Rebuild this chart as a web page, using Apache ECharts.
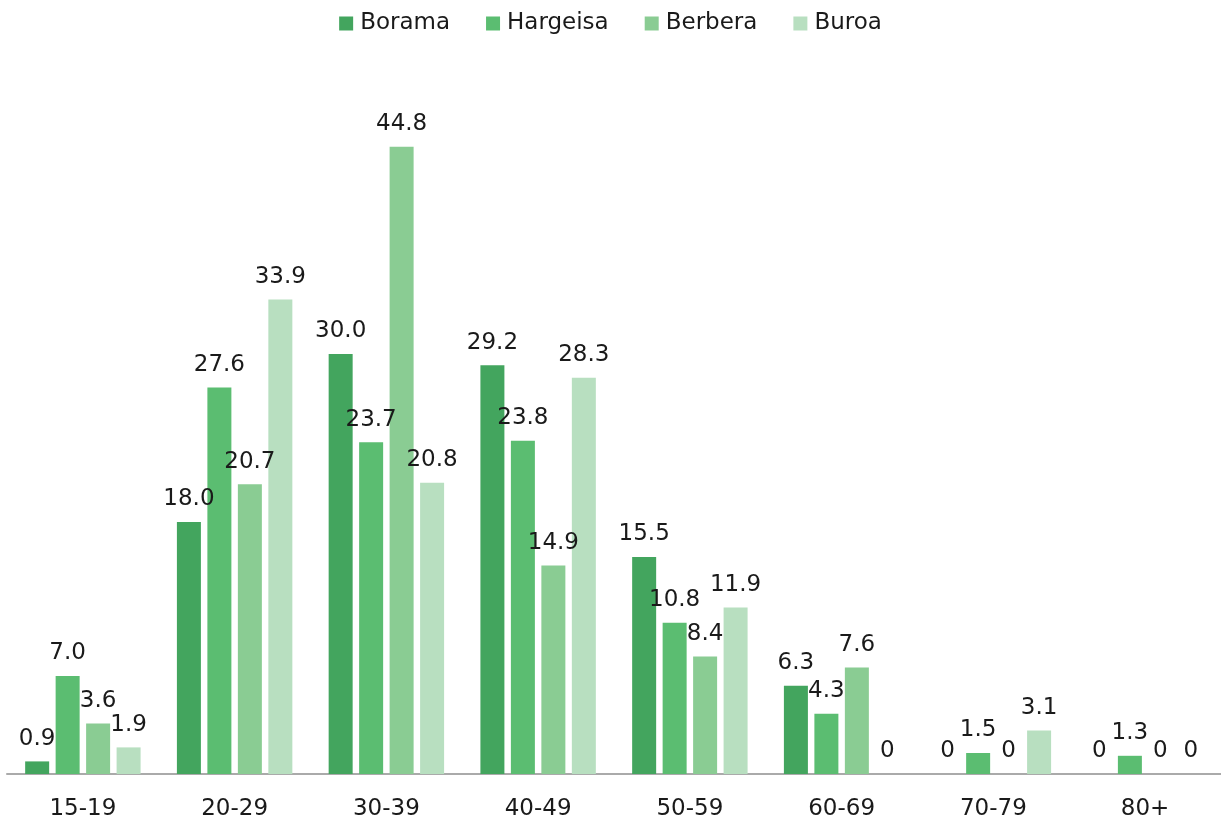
<!DOCTYPE html>
<html>
<head>
<meta charset="utf-8">
<script src="https://cdn.jsdelivr.net/npm/echarts@6/dist/echarts.min.js"></script>
<style>
    html, body {margin: 0; padding: 0; background: #fff;}
    #chart {width: 1221px; height: 825px;}
</style>
</head>
<body>
<div id="chart"></div>
<script>
const ageGroups = ['15-19', '20-29', '30-39', '40-49', '50-59', '60-69', '70-79', '80+'];
const borama = [0.9, 18.0, 30.0, 29.2, 15.5, 6.3, 0, 0];
const hargeisa = [7.0, 27.6, 23.7, 23.8, 10.8, 4.3, 1.5, 1.3];
const berbera = [3.6, 20.7, 44.8, 14.9, 8.4, 7.6, 0, 0];
const buroa = [1.9, 33.9, 20.8, 28.3, 11.9, 0, 3.1, 0];

const fontName = 'DejaVu Sans';
const chart = echarts.init(document.getElementById('chart'));

// 数值标签：0 显示为 "0"，其余保留一位小数
const makeSeries = (name, data, color) => ({
    type: 'bar',
    name: name,
    data: data,
    barWidth: 24,
    barGap: '27%',
    itemStyle: {color: color},
    label: {
        show: true,
        position: 'top',
        distance: 11,
        color: '#1a1a1a',
        fontSize: 23,
        fontFamily: fontName,
        formatter: p => p.value === 0 ? '0' : p.value.toFixed(1)
    }
});

const option = {
    animation: false,
    grid: {
        left: 7,
        width: 1220,
        top: 74,
        bottom: 51
    },
    legend: {
        top: 7,
        left: 'center',
        itemWidth: 14,
        itemHeight: 14,
        itemGap: 36,
        icon: 'rect',
        textStyle: {
            fontSize: 23,
            fontFamily: fontName,
            color: '#1a1a1a',
            padding: [0, 0, 0, 2]
        }
    },
    xAxis: {
        type: 'category',
        data: ageGroups,
        axisTick: {show: false},
        axisLine: {lineStyle: {color: '#aaaaaa', width: 2}},
        axisLabel: {
            margin: 24,
            fontSize: 23,
            fontFamily: fontName,
            color: '#1a1a1a'
        }
    },
    yAxis: {
        type: 'value',
        min: 0,
        max: 50,
        show: false,
        splitLine: {show: false}
    },
    series: [
        makeSeries('Borama', borama, '#43a55e'),
        makeSeries('Hargeisa', hargeisa, '#5bbd71'),
        makeSeries('Berbera', berbera, '#8acc93'),
        makeSeries('Buroa', buroa, '#b8dfc0')
    ]
};
chart.setOption(option);
</script>
</body>
</html>
